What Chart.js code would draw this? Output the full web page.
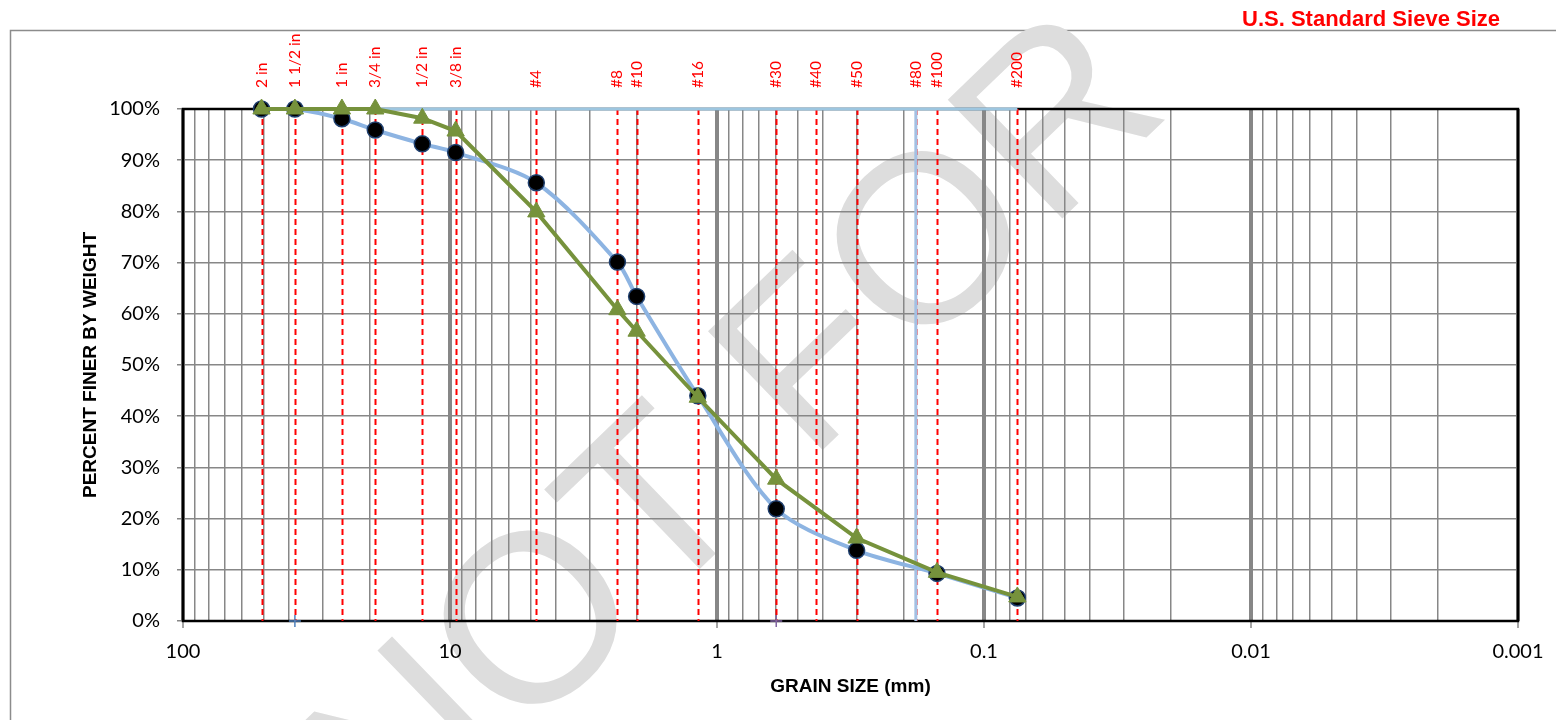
<!DOCTYPE html>
<html>
<head>
<meta charset="utf-8">
<title>Grain Size Distribution</title>
<script src="https://cdn.jsdelivr.net/npm/chart.js@4.4.1/dist/chart.umd.min.js"></script>
<style>
  html, body { margin: 0; padding: 0; background: #ffffff; }
  #wrap { width: 1556px; height: 720px; position: relative; }
</style>
</head>
<body>
<div id="wrap"><canvas id="gradation" width="1556" height="720"></canvas></div>
<script>
// U.S. standard sieves and their openings (mm)
const sieveLabels = ['2 in', '1 1/2 in', '1 in', '3/4 in', '1/2 in', '3/8 in', '#4', '#8', '#10', '#16', '#30', '#40', '#50', '#80', '#100', '#200'];
const sieveSizes  = [50.8, 38.1, 25.4, 19.05, 12.7, 9.525, 4.75, 2.36, 2.0, 1.18, 0.6, 0.425, 0.3, 0.18, 0.15, 0.075];

// Percent passing for each sieve (null = sieve not used)
const passingSample1 = [100, 100, 98.1, 95.9, 93.2, 91.5, 85.6, 70.1, 63.4, 44.0, 21.9, null, 13.8, null, 9.3, 4.5];
const passingSample2 = [100, 100, 100, 100, 98.2, 95.7, 79.9, 60.8, 56.6, 43.7, 27.7, null, 16.2, null, 9.5, 4.7];

// Upper limit line along 100 % and the #80 marker line
const limitSizes = [38.1, 0.075];
const limitPassing = [100, 100];
const markerSieveSize = 0.18;
const markerSpan = [0, 100];

// Axis range and labelled ticks
const xMin = 0.001, xMax = 100;
const xDecadeTicks = [100, 10, 1, 0.1, 0.01, 0.001];
const yTickStep = 10;

function isDecade(v) {
  const l = Math.log10(v);
  return Math.abs(l - Math.round(l)) < 1e-9;
}

function pairs(xs, ys) {
  const out = [];
  xs.forEach((x, i) => { if (ys[i] !== null) out.push({ x: x, y: ys[i] }); });
  return out;
}

// all 1..9 x 10^n grid positions across the log axis
const xGridValues = [];
for (let e = -3; e <= 1; e++) {
  for (let m = 1; m <= 9; m++) xGridValues.push(Number((m * Math.pow(10, e)).toPrecision(12)));
}
xGridValues.push(100);

const gridGray = '#878787';

// faint watermark behind the plot
const watermarkPlugin = {
  id: 'watermark',
  beforeDraw(chart) {
    const ctx = chart.ctx;
    ctx.save();
    ctx.fillStyle = '#ffffff';
    ctx.fillRect(0, 0, chart.width, chart.height);
    // outer frame of the sheet
    ctx.strokeStyle = '#8c8c8c';
    ctx.lineWidth = 1.5;
    ctx.strokeRect(10.5, 30.5, 2000, 2000);
    ctx.translate(396, 862);
    ctx.rotate(-44 * Math.PI / 180);
    ctx.font = '240px "Liberation Sans", Arial, sans-serif';
    ctx.fillStyle = '#dddddd';
    ctx.textAlign = 'left';
    ctx.textBaseline = 'alphabetic';
    ctx.fillText('NOT FOR', 0, 0);
    ctx.restore();
  }
};

// plot frame, sieve lines and sieve captions
const sievePlugin = {
  id: 'sieves',
  beforeDatasetsDraw(chart) {
    const ctx = chart.ctx;
    const area = chart.chartArea;
    const xs = chart.scales.x;
    ctx.save();
    ctx.strokeStyle = '#000000';
    ctx.lineWidth = 2.5;
    ctx.strokeRect(area.left, area.top, area.right - area.left, area.bottom - area.top);

    ctx.strokeStyle = '#ff0000';
    ctx.lineWidth = 2;
    ctx.setLineDash([6, 4]);
    sieveSizes.forEach(s => {
      const px = Math.round(xs.getPixelForValue(s)) + 0.5;
      ctx.beginPath();
      ctx.moveTo(px, area.top);
      ctx.lineTo(px, area.bottom);
      ctx.stroke();
    });
    ctx.setLineDash([]);

    ctx.fillStyle = '#ff0000';
    ctx.font = '15.5px Lato, "Open Sans", sans-serif';
    ctx.textAlign = 'left';
    ctx.textBaseline = 'middle';
    sieveLabels.forEach((lab, i) => {
      const px = xs.getPixelForValue(sieveSizes[i]);
      ctx.save();
      ctx.translate(px, area.top - 21);
      ctx.rotate(-Math.PI / 2);
      ctx.fillText(lab, 0, 0);
      ctx.restore();
    });

    ctx.font = 'bold 22px "Liberation Sans", Arial, sans-serif';
    ctx.textAlign = 'right';
    ctx.textBaseline = 'alphabetic';
    ctx.fillText('U.S. Standard Sieve Size', 1500, 26);
    ctx.restore();
  }
};

new Chart(document.getElementById('gradation'), {
  type: 'line',
  data: {
    datasets: [
      {
        label: 'Sample 2',
        data: pairs(sieveSizes, passingSample2),
        borderColor: '#76923c',
        backgroundColor: '#76923c',
        borderWidth: 4,
        pointStyle: 'triangle',
        pointRadius: 10,
        pointBorderWidth: 1,
        pointBorderColor: '#76923c',
        pointBackgroundColor: '#76923c',
        tension: 0,
        spanGaps: true,
        clip: false,
        order: 0
      },
      {
        label: 'Sample 1',
        data: pairs(sieveSizes, passingSample1),
        borderColor: '#8db4e2',
        backgroundColor: '#000000',
        borderWidth: 4,
        pointStyle: 'circle',
        pointRadius: 8,
        pointBorderWidth: 1.5,
        pointBorderColor: '#1f3f6e',
        pointBackgroundColor: '#000000',
        tension: 0.3,
        spanGaps: true,
        clip: false,
        order: 1
      },
      {
        label: 'Limit',
        data: pairs(limitSizes, limitPassing),
        borderColor: '#9dc6e0',
        borderWidth: 3,
        pointRadius: 0,
        clip: false,
        order: 2
      },
      {
        label: '#80',
        data: markerSpan.map(y => ({ x: markerSieveSize, y: y })),
        borderColor: '#a3c0e3',
        borderWidth: 3,
        pointRadius: 0,
        clip: false,
        order: 3
      },
      {
        label: 'Marker A',
        data: [{ x: sieveSizes[1], y: 0 }],
        showLine: false,
        pointStyle: 'cross',
        pointRadius: 6,
        pointBorderWidth: 1.5,
        pointBorderColor: '#4f81bd',
        clip: false,
        order: 4
      },
      {
        label: 'Marker B',
        data: [{ x: sieveSizes[10], y: 0 }],
        showLine: false,
        pointStyle: 'cross',
        pointRadius: 6,
        pointBorderWidth: 1.5,
        pointBorderColor: '#8064a2',
        clip: false,
        order: 5
      }
    ]
  },
  options: {
    responsive: false,
    animation: false,
    devicePixelRatio: 1,
    layout: { padding: { top: 109, right: 38, left: 0, bottom: 0 } },
    plugins: {
      legend: { display: false },
      tooltip: { enabled: false },
      title: { display: false }
    },
    scales: {
      x: {
        type: 'logarithmic',
        reverse: true,
        min: xMin,
        max: xMax,
        afterBuildTicks(scale) {
          scale.ticks = xGridValues.map(v => ({ value: v }));
        },
        afterFit(scale) { scale.height = 99; },
        border: { display: false },
        grid: {
          color: gridGray,
          lineWidth: c => (c.tick && isDecade(c.tick.value)) ? 4 : 1.5,
          tickLength: 7,
          tickWidth: 1.5,
          tickColor: c => (c.tick && isDecade(c.tick.value)) ? gridGray : 'rgba(0,0,0,0)'
        },
        ticks: {
          autoSkip: false,
          maxRotation: 0,
          padding: 12,
          color: '#000000',
          font: { family: 'Lato', size: 20 },
          callback: v => (xDecadeTicks.some(d => Math.abs(d - v) < 1e-12)) ? String(v) : ''
        },
        title: {
          display: true,
          text: 'GRAIN SIZE (mm)',
          color: '#000000',
          font: { family: '"Liberation Sans"', size: 19, weight: 'bold' },
          padding: { top: 0, bottom: 22 }
        }
      },
      y: {
        min: 0,
        max: 100,
        afterFit(scale) { scale.width = 183; },
        border: { display: false },
        grid: {
          color: gridGray,
          lineWidth: 1.5,
          tickLength: 6,
          tickColor: gridGray
        },
        ticks: {
          stepSize: yTickStep,
          padding: 17,
          color: '#000000',
          font: { family: 'Lato', size: 20 },
          callback: v => v + '%'
        },
        title: {
          display: true,
          text: 'PERCENT FINER BY WEIGHT',
          color: '#000000',
          font: { family: '"Liberation Sans"', size: 19, weight: 'bold' },
          padding: { top: 79, bottom: 0 }
        }
      }
    }
  },
  plugins: [watermarkPlugin, sievePlugin]
});
</script>
</body>
</html>
